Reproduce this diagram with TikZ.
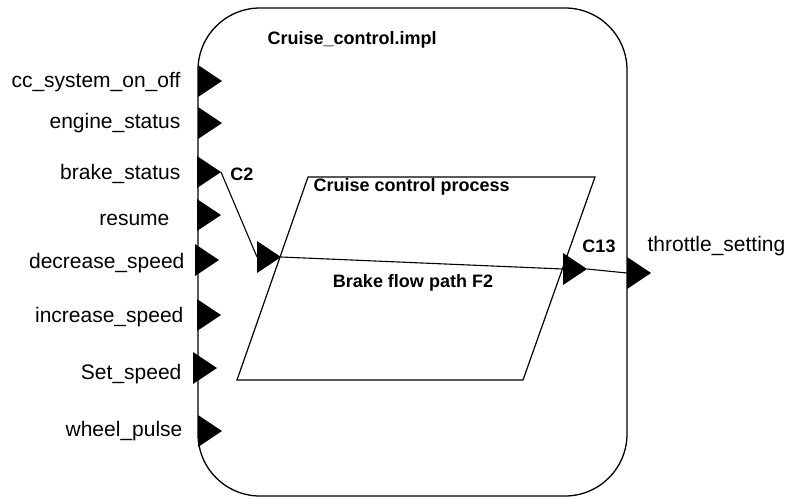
\documentclass[tikz,border=0pt]{standalone}
\usepackage{fontspec}
\setmainfont{Liberation Sans}
\begin{document}
\begin{tikzpicture}[x=1pt,y=-1pt,
  line width=1.2pt,
  portlbl/.style={inner sep=0pt,font=\fontsize{21}{25}\selectfont},
  conlbl/.style={inner sep=0pt,font=\fontsize{18}{22}\selectfont\bfseries},
  port/.pic={
    \fill (0,-16) -- (24,0) -- (0,16) -- cycle;
    \coordinate (-in) at (0,0);
    \coordinate (-out) at (24,0);
  },
  wire/.style={line width=1.1pt}
]
\useasboundingbox (0,0) rectangle (786,498);

% component implementation box
\draw[line width=1.3pt, rounded corners=62] (198,8) rectangle (627,496);
\node[conlbl, anchor=west] (impl) at (267,40) {Cruise\_control.impl};

% process parallelogram
\draw (308,177) -- (595,177) -- (523,380) -- (237,380) -- cycle;
\node[conlbl, anchor=west] (proc) at (313,187) {Cruise control process};
\node[conlbl] (flow) at (413,283) {Brake flow path F2};

% input ports on the left edge
\pic (pcc)   at (198,81)  {port};
\pic (peng)  at (198,123) {port};
\pic (pbrk)  at (197,172) {port};
\pic (pres)  at (197,215) {port};
\pic (pdec)  at (195,260) {port};
\pic (pinc)  at (197,315) {port};
\pic (pset)  at (193,368) {port};
\pic (pwhl)  at (198,431) {port};

\node[portlbl, anchor=east] (lcc)  at (181,82)  {cc\_system\_on\_off};
\node[portlbl, anchor=east] (leng) at (181,123) {engine\_status};
\node[portlbl, anchor=east] (lbrk) at (181,174) {brake\_status};
\node[portlbl, anchor=east] (lres) at (170,220) {resume};
\node[portlbl, anchor=east] (ldec) at (185,263) {decrease\_speed};
\node[portlbl, anchor=east] (linc) at (184,317) {increase\_speed};
\node[portlbl, anchor=east] (lset) at (182,374) {Set\_speed};
\node[portlbl, anchor=east] (lwhl) at (183,431) {wheel\_pulse};

% process ports
\pic (pc2)  at (257,257) {port};
\pic (pc13) at (563,269) {port};

% output port on the right edge
\pic (pout) at (627,273) {port};
\node[portlbl, anchor=west] (lout) at (647,246) {throttle\_setting};

% connections
\draw[wire] (pbrk-out) -- (pc2-in);
\node[conlbl] (c2) at (242,174) {C2};
\draw[wire] (pc2-out) -- (pc13-in);
\draw[wire] (pc13-out) -- (pout-in);
\node[conlbl] (c13) at (599,246) {C13};
\end{tikzpicture}
\end{document}
